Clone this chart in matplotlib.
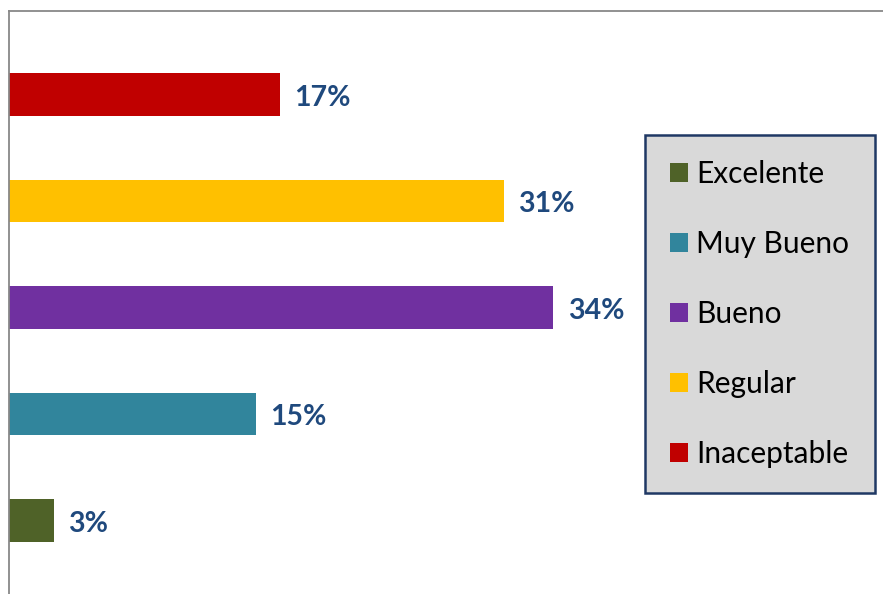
import matplotlib.pyplot as plt
from matplotlib.patches import Patch

categories = ["Excelente", "Muy Bueno", "Bueno", "Regular", "Inaceptable"]
values = [2.8, 15.4, 34.0, 30.9, 16.9]
labels = ["3%", "15%", "34%", "31%", "17%"]
colors = ["#4F6228", "#31859C", "#7030A0", "#FFC000", "#C00000"]

plt.rcParams['font.family'] = ['Lato', 'DejaVu Sans']

fig = plt.figure(figsize=(8.83, 5.94), dpi=100)
ax = fig.add_axes([9 / 883, 0, 874 / 883, 583 / 594])

ypos = list(range(len(categories)))
ax.barh(ypos, values, height=0.40, color=colors)

for y, v, lab in zip(ypos, values, labels):
    ax.text(v + 0.9, y - 0.03, lab, ha='left', va='center',
            fontsize=20.5, fontweight='bold', color='#1F497D')

ax.set_xlim(0, 54.6)
ax.set_ylim(-0.69, 4.784)
ax.set_xticks([])
ax.set_yticks([])
for s in ['bottom', 'right']:
    ax.spines[s].set_visible(False)
for s in ['left', 'top']:
    ax.spines[s].set_color('#888888')
    ax.spines[s].set_linewidth(1.3)

handles = [Patch(facecolor=c, edgecolor='none') for c in colors]
leg = fig.legend(handles, categories, loc='upper left',
                 bbox_to_anchor=(645 / 883, 1 - 135 / 594),
                 fontsize=21.5, frameon=True, fancybox=False,
                 handlelength=0.6, handleheight=0.6, handletextpad=0.27,
                 labelspacing=1.4, borderpad=0.85, borderaxespad=0)
frame = leg.get_frame()
frame.set_facecolor('#D9D9D9')
frame.set_edgecolor('#1F3864')
frame.set_linewidth(1.8)
frame.set_alpha(1)

fig.savefig('out.png', dpi=100)
